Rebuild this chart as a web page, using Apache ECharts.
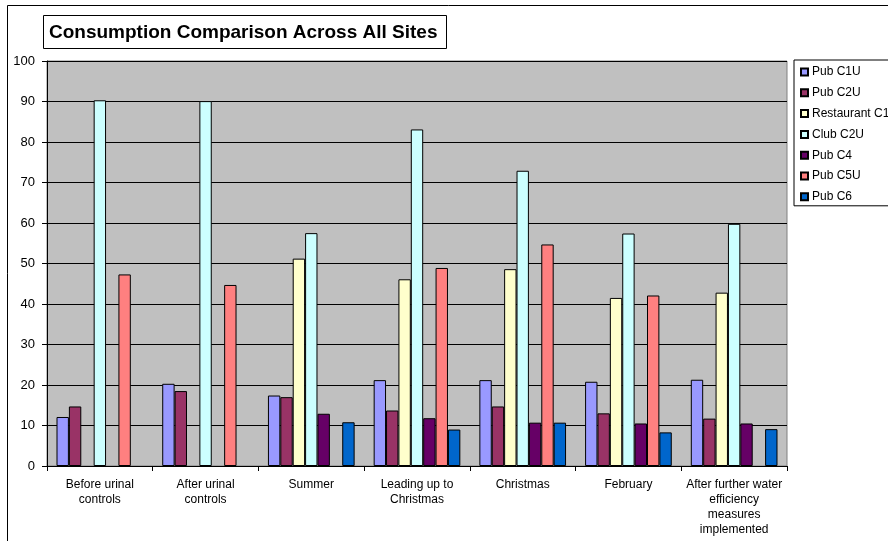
<!DOCTYPE html>
<html>
<head>
<meta charset="utf-8">
<script src="https://cdn.jsdelivr.net/npm/echarts@6/dist/echarts.min.js"></script>
<style>
  html, body { margin: 0; padding: 0; background: #fff; }
  #chart { width: 888px; height: 541px; }
</style>
</head>
<body>
<div id="chart"></div>
<script>
// Consumption per site over each monitoring period
const categories = [
  'Before urinal\ncontrols',
  'After urinal\ncontrols',
  'Summer',
  'Leading up to\nChristmas',
  'Christmas',
  'February',
  'After further water\nefficiency\nmeasures\nimplemented'
];

const seriesNames = ['Pub C1U', 'Pub C2U', 'Restaurant C1', 'Club C2U', 'Pub C4', 'Pub C5U', 'Pub C6'];

const pubC1U        = [12.1, 20.3, 17.4, 21.2, 21.2, 20.8, 21.3];
const pubC2U        = [14.7, 18.5, 17.0, 13.7, 14.7, 13.0, 11.7];
const restaurantC1  = [null, null, 51.2, 46.1, 48.6, 41.5, 42.8];
const clubC2U       = [90.3, 90.1, 57.5, 83.1, 72.9, 57.4, 59.8];
const pubC4         = [null, null, 12.9, 11.8, 10.7, 10.5, 10.5];
const pubC5U        = [47.3, 44.7, null, 48.9, 54.7, 42.1, null];
const pubC6         = [null, null, 10.8, 9.0, 10.7, 8.3, 9.1];

const yTicks = [0, 10, 20, 30, 40, 50, 60, 70, 80, 90, 100];

const seriesValues = [pubC1U, pubC2U, restaurantC1, clubC2U, pubC4, pubC5U, pubC6];
const colors = ['#9999FF', '#993366', '#FFFFCC', '#CCFFFF', '#660066', '#FF8080', '#0066CC'];

const font = "'Liberation Sans', Arial, sans-serif";

const chart = echarts.init(document.getElementById('chart'), null, { renderer: 'canvas' });

chart.setOption({
  animation: false,
  backgroundColor: '#ffffff',
  textStyle: { fontFamily: font },
  title: {
    text: 'Consumption Comparison Across All Sites',
    left: 43,
    top: 15,
    padding: [8, 9, 7, 6],
    borderWidth: 1,
    borderColor: '#000',
    backgroundColor: '#fff',
    textStyle: { fontFamily: font, fontSize: 19, fontWeight: 'bold', color: '#000', lineHeight: 19 }
  },
  legend: {
    orient: 'vertical',
    left: 794,
    top: 60,
    padding: [5.5, 40, 2.5, 6],
    itemWidth: 7,
    itemHeight: 7,
    itemGap: 7.8,
    borderWidth: 1,
    borderColor: '#000',
    backgroundColor: '#fff',
    icon: 'rect',
    data: seriesNames,
    textStyle: { fontFamily: font, fontSize: 12, color: '#000', lineHeight: 13, padding: [0, 0, 0, -1] }
  },
  graphic: [{
    type: 'rect',
    z: -10,
    shape: { x: 7.5, y: 5.5, width: 1000, height: 1000 },
    style: { fill: 'none', stroke: '#000', lineWidth: 1 }
  }],
  grid: {
    left: 47,
    top: 61,
    right: 101,
    bottom: 75,
    show: true,
    backgroundColor: '#C0C0C0',
    borderColor: '#808080',
    borderWidth: 1
  },
  xAxis: {
    type: 'category',
    data: categories,
    boundaryGap: true,
    axisLine: { show: true, lineStyle: { color: '#000', width: 1 } },
    axisTick: { show: true, alignWithLabel: false, length: 5, lineStyle: { color: '#000' } },
    axisLabel: {
      interval: 0,
      color: '#000',
      fontFamily: font,
      fontSize: 12,
      lineHeight: 15,
      margin: 11
    },
    splitLine: { show: false }
  },
  yAxis: {
    type: 'value',
    min: yTicks[0],
    max: yTicks[yTicks.length - 1],
    interval: 10,
    axisLine: { show: true, lineStyle: { color: '#000', width: 1 } },
    axisTick: { show: true, length: 5, lineStyle: { color: '#000' } },
    axisLabel: { color: '#000', fontFamily: font, fontSize: 13, margin: 12 },
    splitLine: { show: true, lineStyle: { color: '#000', width: 1 } }
  },
  series: seriesNames.map((name, i) => ({
    name: name,
    type: 'bar',
    data: seriesValues[i],
    barGap: '0%',
    barCategoryGap: '18%',
    itemStyle: { color: colors[i], borderColor: '#000', borderWidth: 1 }
  }))
});
</script>
</body>
</html>
